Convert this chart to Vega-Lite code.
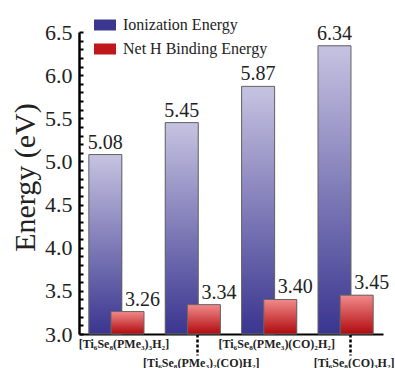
{
  "$schema": "https://vega.github.io/schema/vega-lite/v6.json",
  "width": 304,
  "height": 302,
  "autosize": "none",
  "padding": {"left": 79, "top": 32, "right": 12, "bottom": 34},
  "background": "white",
  "config": {"view": {"stroke": null}},
  "data": {"values": [
    {"complex": "[Ti₆Se₈(PMe₃)₃H₂]", "series": "Ionization Energy", "energy": 5.08},
    {"complex": "[Ti₆Se₈(PMe₃)₂(CO)H₂]", "series": "Ionization Energy", "energy": 5.45},
    {"complex": "[Ti₆Se₈(PMe₃)(CO)₂H₂]", "series": "Ionization Energy", "energy": 5.87},
    {"complex": "[Ti₆Se₈(CO)₃H₂]", "series": "Ionization Energy", "energy": 6.34},
    {"complex": "[Ti₆Se₈(PMe₃)₃H₂]", "series": "Net H Binding Energy", "energy": 3.26},
    {"complex": "[Ti₆Se₈(PMe₃)₂(CO)H₂]", "series": "Net H Binding Energy", "energy": 3.34},
    {"complex": "[Ti₆Se₈(PMe₃)(CO)₂H₂]", "series": "Net H Binding Energy", "energy": 3.40},
    {"complex": "[Ti₆Se₈(CO)₃H₂]", "series": "Net H Binding Energy", "energy": 3.45}
  ]},
  "encoding": {
    "x": {
      "field": "complex", "type": "nominal", "sort": null,
      "scale": {"paddingInner": 0.42, "paddingOuter": 0.2},
      "axis": {
        "title": null,
        "labelAngle": 0,
        "labelFont": "Liberation Serif",
        "labelFontSize": 12,
        "labelFontWeight": "bold",
        "labelColor": "#222",
        "labelBaseline": "top",
        "labelOverlap": false,
        "labelLimit": 0,
        "labelPadding": {"condition": {"test": "datum.value == '[Ti₆Se₈(PMe₃)₂(CO)H₂]' || datum.value == '[Ti₆Se₈(CO)₃H₂]'", "value": 2}, "value": 4},
        "labelOffset": {"condition": {"test": "datum.value == '[Ti₆Se₈(PMe₃)₂(CO)H₂]' || datum.value == '[Ti₆Se₈(CO)₃H₂]'", "value": 4}, "value": 3},
        "tickSize": {"condition": {"test": "datum.value == '[Ti₆Se₈(PMe₃)₂(CO)H₂]' || datum.value == '[Ti₆Se₈(CO)₃H₂]'", "value": 21}, "value": 0},
        "tickDash": [3, 2],
        "tickWidth": 2.5,
        "tickColor": "#000",
        "tickOffset": 4,
        "domainColor": "#000",
        "domainWidth": 2
      }
    },
    "xOffset": {
      "field": "series", "type": "nominal",
      "scale": {"domain": ["Ionization Energy", "Net H Binding Energy"], "paddingInner": 0, "paddingOuter": 0}
    },
    "y": {
      "field": "energy", "type": "quantitative",
      "scale": {"domain": [3, 6.5], "zero": false, "nice": false},
      "axis": {
        "title": "Energy (eV)",
        "titleFont": "Liberation Serif",
        "titleFontSize": 30,
        "titleFontWeight": "normal",
        "titleColor": "#222",
        "titleX": -54,
        "titleY": 145,
        "titleAngle": -90,
        "titleAlign": "center",
        "titleBaseline": "middle",
        "values": [3.0, 3.1, 3.2, 3.3, 3.4, 3.5, 3.6, 3.7, 3.8, 3.9, 4.0, 4.1, 4.2, 4.3, 4.4, 4.5, 4.6, 4.7, 4.8, 4.9, 5.0, 5.1, 5.2, 5.3, 5.4, 5.5, 5.6, 5.7, 5.8, 5.9, 6.0, 6.1, 6.2, 6.3, 6.4, 6.5],
        "labelExpr": "abs(datum.value*2 - round(datum.value*2)) < 0.01 ? format(datum.value, '.1f') : ''",
        "labelFont": "Liberation Serif",
        "labelFontSize": 22,
        "labelFontWeight": "normal",
        "labelColor": "#222",
        "labelPadding": 11,
        "labelOverlap": false,
        "labelBound": false,
        "tickSize": -4,
        "tickWidth": 2,
        "tickColor": "#000",
        "domainColor": "#000",
        "domainWidth": 2.5,
        "grid": false
      }
    }
  },
  "layer": [
    {
      "mark": {"type": "bar", "width": 33},
      "encoding": {
        "y2": {"datum": 3},
        "color": {
          "field": "series", "type": "nominal",
          "scale": {"domain": ["Ionization Energy", "Net H Binding Energy"], "range": ["#3b378f", "#c0171b"]},
          "legend": {
            "orient": "none",
            "legendX": 15,
            "legendY": -18,
            "title": null,
            "symbolType": "M-1,-0.5H1V0.5H-1Z",
            "symbolSize": 484,
            "symbolStrokeWidth": 0,
            "labelFont": "Liberation Serif",
            "labelFontSize": 16,
            "labelFontWeight": "normal",
            "labelColor": "#222",
            "labelOffset": 7,
            "rowPadding": 5
          }
        }
      }
    },
    {
      "mark": {"type": "bar", "width": 33, "stroke": "#666", "strokeWidth": 1},
      "encoding": {
        "y2": {"datum": 3},
        "color": {
          "condition": {
            "test": "datum.series == 'Ionization Energy'",
            "value": {"gradient": "linear", "x1": 0, "y1": 1, "x2": 0, "y2": 0,
              "stops": [{"offset": 0, "color": "#3a358f"}, {"offset": 1, "color": "#c6c3e1"}]}
          },
          "value": {"gradient": "linear", "x1": 0, "y1": 1, "x2": 0, "y2": 0,
            "stops": [{"offset": 0, "color": "#b00a0e"}, {"offset": 1, "color": "#f28a8a"}]}
        }
      }
    },
    {
      "transform": [{"filter": "datum.series == 'Ionization Energy'"}],
      "mark": {"type": "text", "baseline": "bottom", "dy": -2, "font": "Liberation Serif", "fontSize": 20, "fontWeight": "normal", "color": "#222"},
      "encoding": {"text": {"field": "energy", "type": "quantitative", "format": ".2f"}}
    },
    {
      "transform": [{"filter": "datum.series == 'Net H Binding Energy'"}],
      "mark": {"type": "text", "baseline": "bottom", "dy": -2, "dx": 15, "font": "Liberation Serif", "fontSize": 20, "fontWeight": "normal", "color": "#222"},
      "encoding": {"text": {"field": "energy", "type": "quantitative", "format": ".2f"}}
    }
  ]
}
